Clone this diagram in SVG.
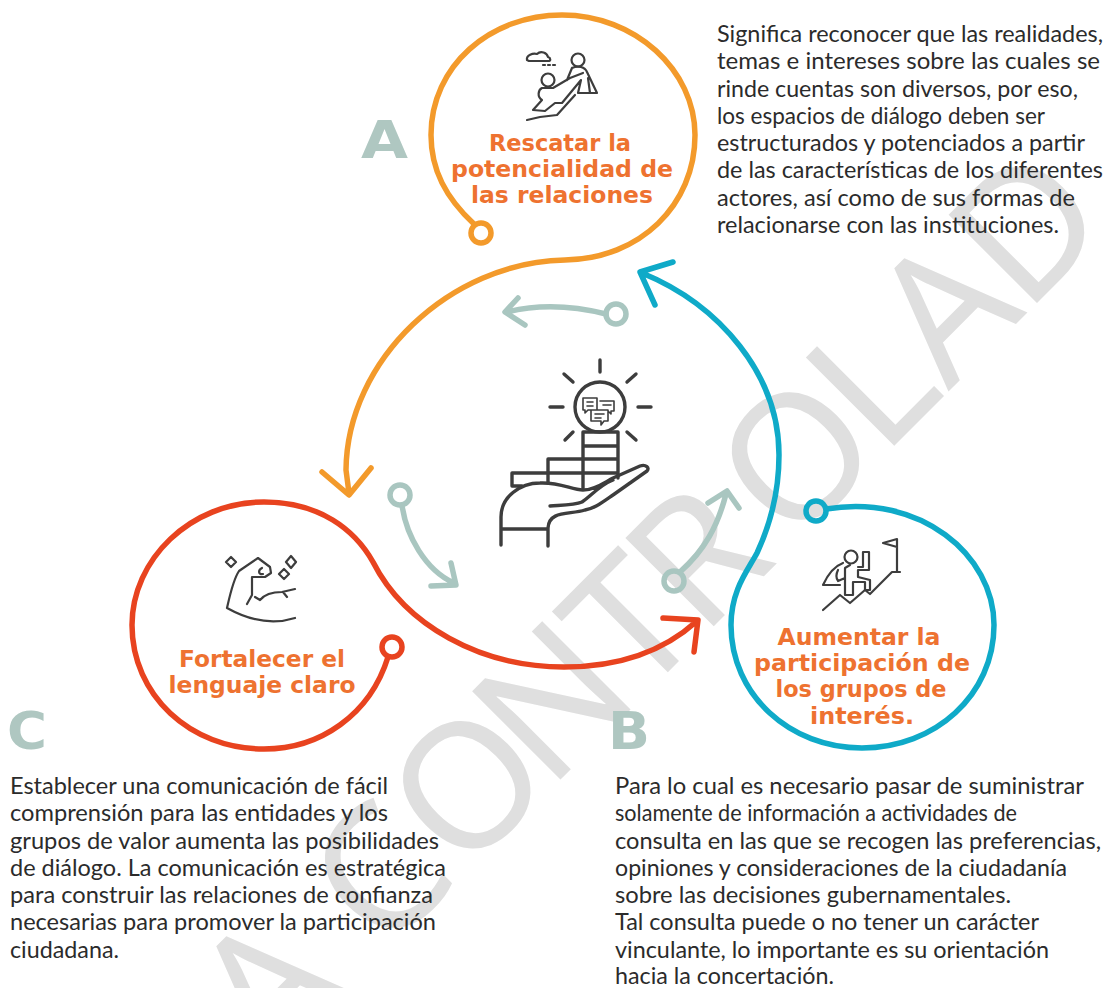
<svg xmlns="http://www.w3.org/2000/svg" width="1105" height="988" viewBox="0 0 1105 988">
<style>
.body{font-family:"Lato","Liberation Sans",sans-serif;font-size:22.5px;fill:#2b2b2b}
.title{font-family:"DejaVu Sans",sans-serif;font-weight:700;font-size:23px;fill:#EE7230;text-anchor:middle}
.letter{font-family:"DejaVu Sans",sans-serif;font-weight:700;font-size:52px;fill:#AFC7C1}
.wm{font-family:"Noto Sans","Liberation Sans",sans-serif;font-size:175px;fill:#DFDFDF}
.ic{fill:none;stroke:#3d3d3d;stroke-width:2.2;stroke-linecap:round;stroke-linejoin:round}
.ic2{fill:none;stroke:#3d3d3d;stroke-width:3.4;stroke-linecap:round;stroke-linejoin:round}
.o{stroke:#F39A2B}.b{stroke:#0FAAC8}.r{stroke:#E8431F}.g{stroke:#A9C6C0}
.c{fill:none;stroke-width:5.5;stroke-linecap:round;stroke-linejoin:round}
</style>
<rect width="1105" height="988" fill="#fff"/>
<g id="watermark"><text class="wm" transform="translate(670 670) rotate(-45)" x="-565 -480 -405 -293 -172 -44 45 172 300 394 502">A CONTROLAD</text></g>
<g id="connectors">
<path class="c o" d="M474,224C446,198 431,170 431,135C431,66 490,15 562,15C635,15 695,70 695,135C695,205 640,259 565,260C450,262 347,360 346,470L349,493M322,472L349,495L371,468"/>
<path class="c b" d="M826,509C920,493 994,555 994,625C994,695 935,748 862,748C790,748 731,695 731,625C731,590 748,570 757,553C770,525 779,495 779,455C779,375 720,305 642,273M673,262L640,272L655,305"/>
<path class="c r" d="M388,657C370,715 320,749 264,749C190,749 132,695 132,625C132,560 190,502 264,502C320,502 355,530 373,562C405,625 480,667 564,667C620,667 665,650 697,621M663,618L698,620L694,652"/>
<path class="c g" d="M606,314C570,305 535,305 507,312M518,298L505,312L525,325"/>
<path class="c g" d="M402,505C406,535 425,570 454,583M431,586L456,585L451,563"/>
<path class="c g" d="M680,572C705,550 718,525 726,494M708,503L727,491L739,508"/>
<circle class="c o" cx="481" cy="233" r="10" fill="#fff"/>
<circle class="c b" cx="816" cy="511" r="10" fill="#fff"/>
<circle class="c r" cx="392" cy="647" r="10" fill="#fff"/>
<circle class="c g" cx="616" cy="314" r="10" fill="#fff"/>
<circle class="c g" cx="400" cy="495" r="10" fill="#fff"/>
<circle class="c g" cx="674" cy="581" r="10" fill="#fff"/>
</g>
<g id="center-icon">
<path class="ic2" d="M600,360V372M564,374L573,382M636,374L627,382M550,407H563M638,407H651M565,440L573,432M636,440L627,432"/>
<circle class="ic2" cx="600" cy="407" r="25"/>
<path class="ic" style="stroke-width:1.6" d="M583,398H597V410H588L585,413V410H583ZM587,402H593M587,406H593M600,401H614V411H611V414L608,411M603,405H611M591,410H608V421H604L601,425V421H591ZM595,414H604M595,418H601"/>
<path class="ic2" d="M583,488V432H618V478M583,446H618M583,459H618M583,473H618M583,459H548V483M583,473H512V486H522"/>
<path class="ic2" d="M501,545V517C501,497 520,483 540,483C560,482 572,490 583,490C595,490 605,482 613,478L640,466C646,464 650,468 647,471L613,495C600,504 595,508 585,510C570,515 549,510 548,528V546M550,506C565,505 575,505 582,502C592,495 600,485 613,480M501,529H548"/>
</g>
<g id="node-a">
<text class="letter" x="361" y="158" textLength="47" lengthAdjust="spacingAndGlyphs">A</text>
<path class="ic" d="M527,60C526,55 533,53 537,54C541,50 547,53 548,57C551,58 551,61 548,61H529ZM543,65H545M548,65H550M553,65H555"/>
<circle class="ic" cx="578" cy="60" r="6.5"/>
<circle class="ic" cx="548" cy="80" r="6.5"/>
<path class="ic" d="M572,68C578,65 585,67 587,72L597,93H578L581,80L562,103L555,103L545,111L533,110L542,100C537,97 538,90 542,88L553,88L570,78L583,73M572,68L567,80M527,120L540,117L557,115L575,95M588,78L590,93"/>
<text class="title" x="560" y="151" textLength="142" lengthAdjust="spacingAndGlyphs">Rescatar la</text>
<text class="title" x="562" y="177" textLength="222" lengthAdjust="spacingAndGlyphs">potencialidad de</text>
<text class="title" x="562" y="203" textLength="182" lengthAdjust="spacingAndGlyphs">las relaciones</text>
</g>
<g id="node-b">
<text class="letter" x="608" y="749" textLength="42" lengthAdjust="spacingAndGlyphs">B</text>
<path class="ic" d="M897,572V539L883,543L897,547M823,610L840,595L850,603L865,590L870,594L892,572H900"/>
<circle class="ic" cx="851" cy="557" r="6.5"/>
<path class="ic" d="M858,567H863V552H869V570H858V577L870,580V590H865V582H853V595H845V578V568L850,565M843,563C835,566 828,574 823,585L840,585M838,570C836,574 836,578 838,581L845,578"/>
<text class="title" x="859" y="645" textLength="163" lengthAdjust="spacingAndGlyphs">Aumentar la</text>
<text class="title" x="862" y="671" textLength="216" lengthAdjust="spacingAndGlyphs">participación de</text>
<text class="title" x="861" y="697" textLength="171" lengthAdjust="spacingAndGlyphs">los grupos de</text>
<text class="title" x="862" y="724" textLength="104" lengthAdjust="spacingAndGlyphs">interés.</text>
</g>
<g id="node-c">
<text class="letter" x="7" y="749" textLength="40" lengthAdjust="spacingAndGlyphs">C</text>
<path class="ic" d="M227,608C230,595 233,580 239,571L258,558L270,567L271,573L265,577H252V595L247,604M262,568C258,570 258,575 263,574M255,597L260,600C264,595 270,592 282,592L295,589M283,592L287,597M227,608C245,618 270,626 295,618M231,557L236,562L231,567L226,562ZM291,556L296,562L291,568L286,562ZM284,569L289,574L284,579L279,574Z"/>
<text class="title" x="262" y="667" textLength="166" lengthAdjust="spacingAndGlyphs">Fortalecer el</text>
<text class="title" x="262" y="693" textLength="187" lengthAdjust="spacingAndGlyphs">lenguaje claro</text>
</g>
<g id="text-a">
<text class="body" x="717" y="42" textLength="386" lengthAdjust="spacingAndGlyphs">Significa reconocer que las realidades,</text>
<text class="body" x="717" y="69" textLength="383" lengthAdjust="spacingAndGlyphs">temas e intereses sobre las cuales se</text>
<text class="body" x="717" y="97" textLength="361" lengthAdjust="spacingAndGlyphs">rinde cuentas son diversos, por eso,</text>
<text class="body" x="717" y="124" textLength="328" lengthAdjust="spacingAndGlyphs">los espacios de diálogo deben ser</text>
<text class="body" x="717" y="151" textLength="368" lengthAdjust="spacingAndGlyphs">estructurados y potenciados a partir</text>
<text class="body" x="717" y="178" textLength="386" lengthAdjust="spacingAndGlyphs">de las características de los diferentes</text>
<text class="body" x="717" y="206" textLength="358" lengthAdjust="spacingAndGlyphs">actores, así como de sus formas de</text>
<text class="body" x="717" y="233" textLength="342" lengthAdjust="spacingAndGlyphs">relacionarse con las instituciones.</text>
</g>
<g id="text-b">
<text class="body" x="615" y="794" textLength="469" lengthAdjust="spacingAndGlyphs">Para lo cual es necesario pasar de suministrar</text>
<text class="body" x="615" y="821" textLength="402" lengthAdjust="spacingAndGlyphs">solamente de información a actividades de</text>
<text class="body" x="615" y="849" textLength="486" lengthAdjust="spacingAndGlyphs">consulta en las que se recogen las preferencias,</text>
<text class="body" x="615" y="876" textLength="452" lengthAdjust="spacingAndGlyphs">opiniones y consideraciones de la ciudadanía</text>
<text class="body" x="615" y="903" textLength="396" lengthAdjust="spacingAndGlyphs">sobre las decisiones gubernamentales.</text>
<text class="body" x="615" y="930" textLength="424" lengthAdjust="spacingAndGlyphs">Tal consulta puede o no tener un carácter</text>
<text class="body" x="615" y="958" textLength="434" lengthAdjust="spacingAndGlyphs">vinculante, lo importante es su orientación</text>
<text class="body" x="615" y="984" textLength="219" lengthAdjust="spacingAndGlyphs">hacia la concertación.</text>
</g>
<g id="text-c">
<text class="body" x="10" y="794" textLength="378" lengthAdjust="spacingAndGlyphs">Establecer una comunicación de fácil</text>
<text class="body" x="10" y="821" textLength="378" lengthAdjust="spacingAndGlyphs">comprensión para las entidades y los</text>
<text class="body" x="10" y="849" textLength="429" lengthAdjust="spacingAndGlyphs">grupos de valor aumenta las posibilidades</text>
<text class="body" x="10" y="876" textLength="436" lengthAdjust="spacingAndGlyphs">de diálogo. La comunicación es estratégica</text>
<text class="body" x="10" y="903" textLength="423" lengthAdjust="spacingAndGlyphs">para construir las relaciones de confianza</text>
<text class="body" x="10" y="930" textLength="426" lengthAdjust="spacingAndGlyphs">necesarias para promover la participación</text>
<text class="body" x="10" y="958" textLength="109" lengthAdjust="spacingAndGlyphs">ciudadana.</text>
</g>
</svg>
